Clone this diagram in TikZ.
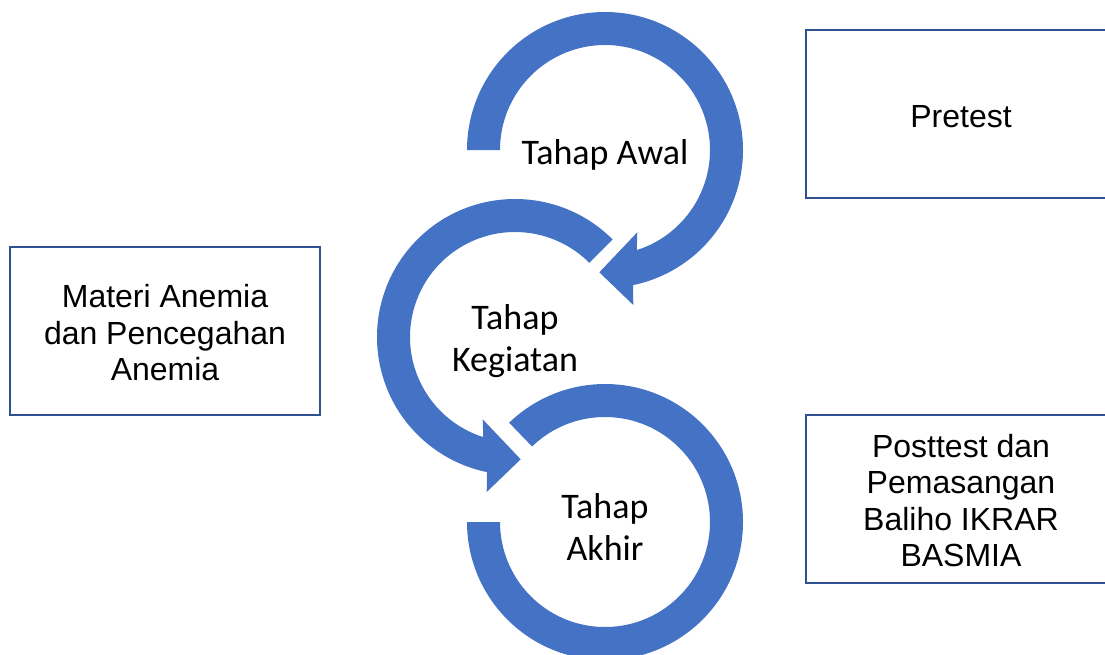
\documentclass[tikz,border=0pt]{standalone}
\usepackage{fontspec}
\setmainfont{Liberation Sans}
\newfontfamily\calfont{Carlito}
\usetikzlibrary{calc}
\definecolor{ringblue}{HTML}{4472C4}
\definecolor{boxblue}{HTML}{2F528F}

\begin{document}
\begin{tikzpicture}[x=1pt, y=1pt,
    stage/.style={font=\calfont\fontsize{36}{42}\selectfont, align=center,
        yshift=-4.5pt},
    info/.style={draw=boxblue, line width=2pt, minimum width=310pt,
        minimum height=168pt},
    infotext/.style={align=center, font=\fontsize{32}{36.5}\selectfont},
    ring/.style={fill=ringblue}]

    \useasboundingbox (0,0) rectangle (1105,-654);
    \clip (0,0) rectangle (1105,-654);

    \coordinate (c1) at (605,-150);
    \coordinate (c2) at (515,-337);
    \coordinate (c3) at (605,-522);

    % first ring, head at the bottom
    \fill[ring] ($(c1)+(180:138)$) arc[start angle=180, end angle=-78.3, radius=138]
        -- ($(c1)+(28.3,-155)$) -- ($(c1)+(-5.7,-122.3)$) -- ($(c1)+(32.3,-82.3)$)
        -- ($(c1)+(-72.4:105)$) arc[start angle=-72.4, end angle=180, radius=105]
        -- cycle;

    % second ring, mirrored
    \fill[ring] ($(c2)+(45:138)$) arc[start angle=45, end angle=258.3, radius=138]
        -- ($(c2)+(-28.3,-155)$) -- ($(c2)+(5.7,-122.3)$) -- ($(c2)+(-32.3,-82.3)$)
        -- ($(c2)+(252.4:105)$) arc[start angle=252.4, end angle=45, radius=105]
        -- cycle;

    % last ring, no head
    \fill[ring] ($(c3)+(180:138)$) arc[start angle=180, end angle=494, radius=138]
        -- ($(c3)+(494:105)$) arc[start angle=494, end angle=180, radius=105]
        -- cycle;

    \node[stage] (awal) at (c1) {Tahap Awal};
    \node[stage] (kegiatan) at (c2) {Tahap\\Kegiatan};
    \node[stage] (akhir) at (c3) {Tahap\\Akhir};

    \node[info] (materi) at (165,-330.5) {};
    \node[info] (pretest) at (961,-114) {};
    \node[info] (posttest) at (961,-498.5) {};

    \node[infotext] (materi-t) at ([yshift=-2.5pt]materi.center)
        {Materi Anemia\\dan Pencegahan\\Anemia};
    \node[infotext] (pretest-t) at ([yshift=-2.5pt]pretest.center) {Pretest};
    \node[infotext] (posttest-t) at ([yshift=-2pt]posttest.center)
        {Posttest dan\\Pemasangan\\Baliho IKRAR\\BASMIA};
\end{tikzpicture}
\end{document}
